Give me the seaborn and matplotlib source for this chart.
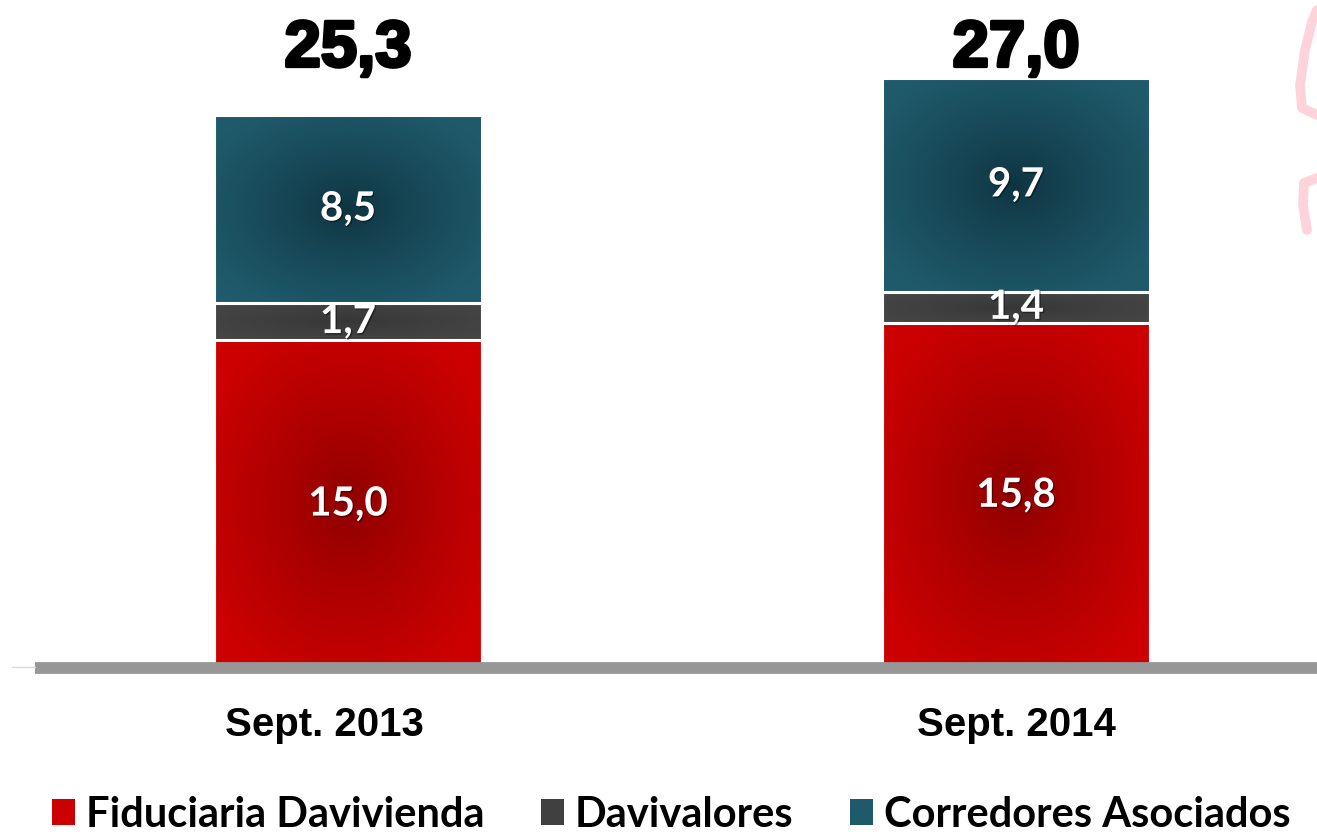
import numpy as np
import matplotlib.pyplot as plt
import matplotlib.patheffects as pe
import matplotlib.transforms as mtransforms
from matplotlib.patches import Patch
from matplotlib.lines import Line2D
from matplotlib.colors import to_rgb
import seaborn as sns

sns.set_theme(style="white")
plt.rcParams["font.family"] = ["Lato", "DejaVu Sans"]

# data (billones de pesos)
periods = ["Sept. 2013", "Sept. 2014"]
fiduciaria = [15.0, 15.8]
davivalores = [1.7, 1.4]
corredores = [8.5, 9.7]
totals = [25.3, 27.0]
series_names = ["Fiduciaria Davivienda", "Davivalores", "Corredores Asociados"]

RED_OUT, RED_IN = "#cc0000", "#8c0000"
GRAY_OUT, GRAY_IN = "#454545", "#363636"
TEAL_OUT, TEAL_IN = "#1f5a6b", "#0e3340"


def fmt(v):
    return f"{v:.1f}".replace(".", ",")


def radial_fill(ax, x0, x1, y0, y1, c_out, c_in):
    n = 200
    u = np.linspace(-1, 1, n)
    uu, vv = np.meshgrid(u, u)
    r = np.clip(np.sqrt(uu ** 2 + vv ** 2) / 1.2, 0, 1) ** 0.8
    a, b = np.array(to_rgb(c_in)), np.array(to_rgb(c_out))
    img = a + (b - a) * r[..., None]
    ax.imshow(img, extent=[x0, x1, y0, y1], aspect="auto",
              interpolation="bilinear", zorder=2)


fig = plt.figure(figsize=(13.17, 8.32), dpi=100)
ax = fig.add_axes([0.0266, 0.1971, 0.9734, 0.8029])

fid = np.array(fiduciaria)
mid = fid + np.array(davivalores)
top = np.array(totals)

# classic overlapping stacked bars: total, then red+gray, then red
for heights, col in [(top, TEAL_OUT), (mid, GRAY_OUT), (fid, RED_OUT)]:
    sns.barplot(x=periods, y=heights, color=col, width=0.4, saturation=1, ax=ax)

patches = ax.patches
for i in range(len(periods)):
    p = patches[i]
    x0, x1 = p.get_x(), p.get_x() + p.get_width()
    radial_fill(ax, x0, x1, 0, fid[i], RED_OUT, RED_IN)
    radial_fill(ax, x0, x1, fid[i], mid[i], GRAY_OUT, GRAY_IN)
    radial_fill(ax, x0, x1, mid[i], top[i], TEAL_OUT, TEAL_IN)

for p in patches:
    p.set_facecolor("none")
    p.set_edgecolor("white")
    p.set_linewidth(2.2)
    p.set_zorder(3)

# segment labels
for i in range(len(periods)):
    segs = [(0, fid[i], fiduciaria[i]), (fid[i], mid[i], davivalores[i]),
            (mid[i], top[i], corredores[i])]
    for lo, hi, v in segs:
        ax.text(i, (lo + hi) / 2, fmt(v), ha="center", va="center", color="white",
                fontsize=29, fontweight="bold", zorder=5,
                path_effects=[pe.withSimplePatchShadow(offset=(1, -1), shadow_rgbFace="black", alpha=0.4)])
    ax.text(i, 28.3, fmt(totals[i]), ha="center", va="center", color="black",
            fontsize=47, fontweight="bold", family="Liberation Sans", zorder=5,
            path_effects=[pe.withStroke(linewidth=2.5, foreground="black")])

ax.axhline(0, color="#979797", lw=8.5, zorder=4, clip_on=False, solid_capstyle="butt")
ax.set_xlim(-0.4686, 1.4506)
ax.set_ylim(0, 30.56)
ax.set_yticks([])
ax.set_xlabel("")
ax.set_ylabel("")
sns.despine(ax=ax, left=True, bottom=True)
ax.tick_params(axis="x", length=0, pad=27)
for k, lbl in enumerate(ax.get_xticklabels()):
    lbl.set_fontsize(29)
    lbl.set_fontweight("bold")
    lbl.set_family("Liberation Sans")
    lbl.set_color("black")
# first category label sits a bit left of its bar on the slide
off = mtransforms.ScaledTranslation(-0.24, 0, fig.dpi_scale_trans)
ax.get_xticklabels()[0].set_transform(ax.get_xticklabels()[0].get_transform() + off)

handles = [Patch(facecolor=c, edgecolor="none") for c in (RED_OUT, "#404040", "#1f5a6b")]
fig.legend(handles, series_names, loc="center left", bbox_to_anchor=(0.0395, 0.021),
           ncol=3, frameon=False, prop={"weight": "bold", "size": 30},
           labelcolor="black",
           handlelength=0.56, handleheight=0.58, handletextpad=0.25,
           columnspacing=1.36, borderpad=0, borderaxespad=0)

# small decorations from the slide
fig.add_artist(Line2D([12 / 1317, 35 / 1317], [1 - 667 / 832] * 2, color="#d9d9d9", lw=1))
px = [1317, 1312, 1305, 1300, 1302, 1317]
py = [10, 22, 50, 85, 108, 115]
fig.add_artist(Line2D([x / 1317 for x in px], [1 - y / 832 for y in py],
                      color="#ffd3dc", lw=7, solid_capstyle="round"))
px = [1307, 1303, 1304, 1317]
py = [230, 205, 183, 178]
fig.add_artist(Line2D([x / 1317 for x in px], [1 - y / 832 for y in py],
                      color="#ffd3dc", lw=7, solid_capstyle="round"))

fig.savefig("out.png", dpi=100)
